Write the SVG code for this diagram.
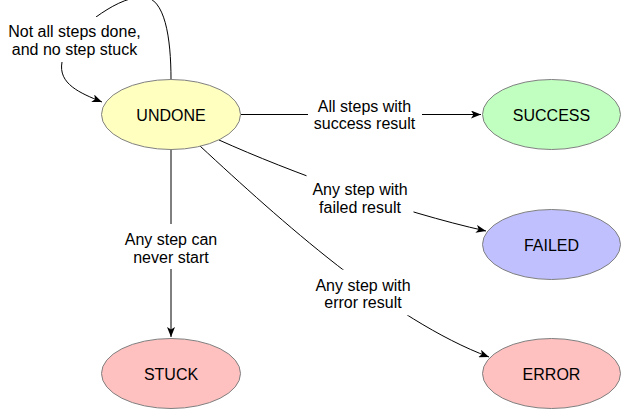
<svg xmlns="http://www.w3.org/2000/svg" width="622" height="410" viewBox="0 0 622 410">
<style>
text{font-family:"Liberation Sans",Arial,Helvetica,sans-serif;font-size:16px;fill:#000;text-anchor:middle}
.node{stroke:#808080;stroke-width:1}
.edge{fill:none;stroke:#000;stroke-width:1}
.lbg{fill:#fff}
</style>
<defs>
<marker id="arr" viewBox="0 0 10 8" refX="10" refY="4" markerWidth="10" markerHeight="8" markerUnits="userSpaceOnUse" orient="auto">
<path d="M0,0 L10,4 L0,8 L2.5,4 Z" fill="#000"/>
</marker>
</defs>
<rect width="622" height="410" fill="#fff"/>
<g id="connectors">
<g id="e-loop">
<path class="edge" d="M171,79.5 C171,38 165,-3 143,-3 C127,-3 110,7 96,17 L62,62 C58,84 80,93 102,102" marker-end="url(#arr)"/>
<rect class="lbg" x="4" y="17" width="142" height="45"/>
<text x="74.5" y="37">Not all steps done,</text>
<text x="74.5" y="54.5">and no step stuck</text>
</g>
<g id="e-success">
<path class="edge" d="M241,114.5 L481,114.5" marker-end="url(#arr)"/>
<rect class="lbg" x="308" y="92" width="114" height="44"/>
<text x="364.5" y="111.5">All steps with</text>
<text x="364.5" y="128.5">success result</text>
</g>
<g id="e-failed">
<path class="edge" d="M219,140 C290,172 400,212 486,231" marker-end="url(#arr)"/>
<rect class="lbg" x="306.5" y="174" width="107" height="45.5"/>
<text x="360" y="195">Any step with</text>
<text x="360" y="212.5">failed result</text>
</g>
<g id="e-stuck">
<path class="edge" d="M171,149.5 L171,337" marker-end="url(#arr)"/>
<rect class="lbg" x="118" y="224" width="106" height="45"/>
<text x="171" y="245">Any step can</text>
<text x="171" y="262.5">never start</text>
</g>
<g id="e-error">
<path class="edge" d="M200,146 C280,220 390,320 489,357" marker-end="url(#arr)"/>
<rect class="lbg" x="309.5" y="269.7" width="107" height="45.6"/>
<text x="363" y="290.7">Any step with</text>
<text x="363" y="308.3">error result</text>
</g>
</g>
<g id="UNDONE">
<ellipse class="node" cx="171" cy="114.5" rx="69.5" ry="35" fill="#FFFFC0"/>
<text x="171" y="120.5">UNDONE</text>
</g>
<g id="SUCCESS">
<ellipse class="node" cx="551.5" cy="114.5" rx="69" ry="35" fill="#C0FFC0"/>
<text x="551.5" y="120.5">SUCCESS</text>
</g>
<g id="FAILED">
<ellipse class="node" cx="551.5" cy="244.5" rx="69" ry="35" fill="#C0C0FF"/>
<text x="551.5" y="250.5">FAILED</text>
</g>
<g id="STUCK">
<ellipse class="node" cx="171" cy="373.5" rx="69.5" ry="35" fill="#FFC0C0"/>
<text x="171" y="379.5">STUCK</text>
</g>
<g id="ERROR">
<ellipse class="node" cx="551.5" cy="373.5" rx="69" ry="35" fill="#FFC0C0"/>
<text x="551.5" y="379.5">ERROR</text>
</g>
</svg>
